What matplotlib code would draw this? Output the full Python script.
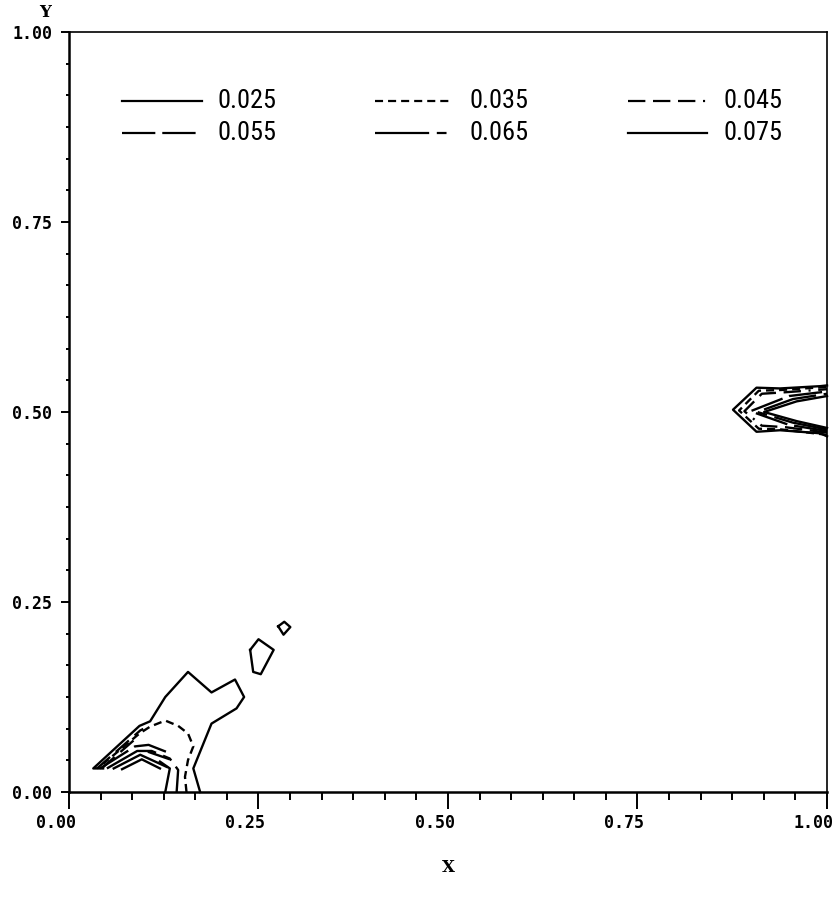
import numpy as np
import matplotlib
matplotlib.use("Agg")
import matplotlib.pyplot as plt
from matplotlib import font_manager
from matplotlib.transforms import ScaledTranslation

plt.rcParams['lines.scale_dashes'] = False

# contour levels and their line patterns (dash lengths in points)
levels = [0.025, 0.035, 0.045, 0.055, 0.065, 0.075]
level_dashes = {
    0.025: None,
    0.035: (5.8, 3.6),
    0.045: (12.5, 5.5, 12.5, 5.5, 12.5, 5.5, 1.5, 5.5),
    0.055: (24, 5),
    0.065: (39, 5.5, 7, 5.5),
    0.075: None,
}

# contour traces near the lower-left corner (nan separates pieces)
x_025 = [0.173, 0.164, 0.188, 0.221, 0.231, 0.219, 0.188, 0.157, 0.127, 0.107, 0.093, 0.032, 0.045,
         np.nan, 0.127, 0.133, 0.120,
         np.nan, 0.239, 0.250, 0.270, 0.253, 0.243, 0.239,
         np.nan, 0.276, 0.284, 0.292, 0.283, 0.276]
y_025 = [0.000, 0.031, 0.090, 0.110, 0.125, 0.148, 0.131, 0.158, 0.125, 0.093, 0.087, 0.031, 0.031,
         np.nan, 0.000, 0.031, 0.040,
         np.nan, 0.187, 0.201, 0.187, 0.155, 0.158, 0.187,
         np.nan, 0.218, 0.224, 0.217, 0.207, 0.218]

x_035 = [0.155, 0.153, 0.157, 0.164, 0.157, 0.144, 0.127, 0.107, 0.093, 0.045]
y_035 = [0.000, 0.020, 0.042, 0.060, 0.077, 0.087, 0.094, 0.086, 0.077, 0.037]

x_045 = [0.037, 0.094, 0.098,
         np.nan, 0.043, 0.090]
y_045 = [0.031, 0.081, 0.083,
         np.nan, 0.031, 0.072]

x_055 = [0.041, 0.087, 0.105, 0.128,
         np.nan, 0.104, 0.133]
y_055 = [0.031, 0.060, 0.062, 0.053,
         np.nan, 0.053, 0.043]

x_065 = [0.050, 0.090, 0.109, 0.133, 0.144, 0.142]
y_065 = [0.031, 0.054, 0.054, 0.044, 0.029, 0.000]

x_075 = [0.059, 0.094, 0.129,
         np.nan, 0.070, 0.096, 0.120]
y_075 = [0.031, 0.049, 0.033,
         np.nan, 0.030, 0.043, 0.031]

# contour traces at the right edge, around y = 0.5
xr_025 = [1.000, 0.991, 0.938, 0.907, 0.876, 0.907, 0.938, 0.991, 1.000]
yr_025 = [0.468, 0.472, 0.476, 0.474, 0.503, 0.532, 0.531, 0.534, 0.535]
xr_035 = [1.000, 0.940, 0.910, 0.884, 0.910, 0.940, 1.000]
yr_035 = [0.470, 0.477, 0.478, 0.502, 0.528, 0.529, 0.533]
xr_045 = [1.000, 0.945, 0.914, 0.891, 0.914, 0.945, 1.000]
yr_045 = [0.473, 0.480, 0.482, 0.501, 0.524, 0.526, 0.530]
xr_055 = [1.000, 0.950, 0.899, 0.950, 1.000]
yr_055 = [0.475, 0.483, 0.501, 0.521, 0.527]
xr_065 = [1.000, 0.955, 0.908, 0.955, 1.000]
yr_065 = [0.477, 0.486, 0.500, 0.517, 0.524]
xr_075 = [1.000, 0.960, 0.917, 0.960, 1.000]
yr_075 = [0.479, 0.488, 0.500, 0.514, 0.521]

traces = {
    0.025: [(x_025, y_025), (xr_025, yr_025)],
    0.035: [(x_035, y_035), (xr_035, yr_035)],
    0.045: [(x_045, y_045), (xr_045, yr_045)],
    0.055: [(x_055, y_055), (xr_055, yr_055)],
    0.065: [(x_065, y_065), (xr_065, yr_065)],
    0.075: [(x_075, y_075), (xr_075, yr_075)],
}

fig = plt.figure(figsize=(8.37, 9.0), dpi=100)
ax = fig.add_axes([69 / 837, 108 / 900, 758 / 837, 760 / 900])


def styled(line, lev):
    d = level_dashes[lev]
    if d is not None:
        line.set_dashes(d)


for lev in levels:
    for xs, ys in traces[lev]:
        ln, = ax.plot(xs, ys, color='black', lw=1.7, clip_on=False)
        styled(ln, lev)

# pick a narrow face for the key if one is installed
names = {f.name for f in font_manager.fontManager.ttflist}
key_family = 'Liberation Sans'
key_size = 16
for cand in ['Roboto Condensed', 'Liberation Sans Narrow', 'Open Sans Condensed', 'Noto Sans Condensed']:
    if cand in names:
        key_family = cand
        key_size = 19
        break

# key in the upper part of the frame, two rows of three
key_cols = [(0.070, 0.1755, 0.1953), (0.4037, 0.5066, 0.5290), (0.7375, 0.8417, 0.8628)]
key_rows = [0.909, 0.867]
for i, lev in enumerate(levels):
    r, c = divmod(i, 3)
    x0, x1, xt = key_cols[c]
    y = key_rows[r]
    ln, = ax.plot([x0, x1], [y, y], color='black', lw=1.6, transform=ax.transAxes)
    styled(ln, lev)
    ax.text(xt, y, f'{lev:.3f}', transform=ax.transAxes, va='center', ha='left',
            fontsize=key_size, family=key_family)

ax.set_xlim(0, 1)
ax.set_ylim(0, 1)
ticks = [0.0, 0.25, 0.5, 0.75, 1.0]
tick_labels = ['0.00', '0.25', '0.50', '0.75', '1.00']
ax.set_xticks(ticks, tick_labels)
ax.set_yticks(ticks, tick_labels)
ax.set_xticks(np.arange(0, 25) / 24, minor=True)
ax.set_yticks(np.arange(0, 25) / 24, minor=True)

lab_font = font_manager.FontProperties(family='DejaVu Sans Mono', weight='bold', size=12)
for lbl in ax.get_xticklabels() + ax.get_yticklabels():
    lbl.set_fontproperties(lab_font)

ax.tick_params(axis='x', which='major', direction='out', length=12, width=1.4, pad=4)
ax.tick_params(axis='x', which='minor', direction='out', length=6, width=1.4)
ax.tick_params(axis='y', which='major', direction='out', length=6, width=1.4, pad=6)
ax.tick_params(axis='y', which='minor', direction='out', length=2.5, width=1.4)

shift = ScaledTranslation(-13 / 100, 0, fig.dpi_scale_trans)
for lbl in ax.get_xticklabels():
    lbl.set_transform(lbl.get_transform() + shift)

for side in ['left', 'bottom']:
    ax.spines[side].set_linewidth(1.8)
for side in ['top', 'right']:
    ax.spines[side].set_linewidth(1.2)

ax.set_xlabel('X', family='DejaVu Serif', weight='bold', fontsize=12)
ax.set_ylabel('Y', family='DejaVu Serif', weight='bold', fontsize=12, rotation=0)
ax.xaxis.set_label_coords(0.5, -0.10)
ax.yaxis.set_label_coords(-0.0317, 1.026)
ax.xaxis.label.set_va('center')
ax.yaxis.label.set_va('center')

fig.savefig('out.png', dpi=100)
